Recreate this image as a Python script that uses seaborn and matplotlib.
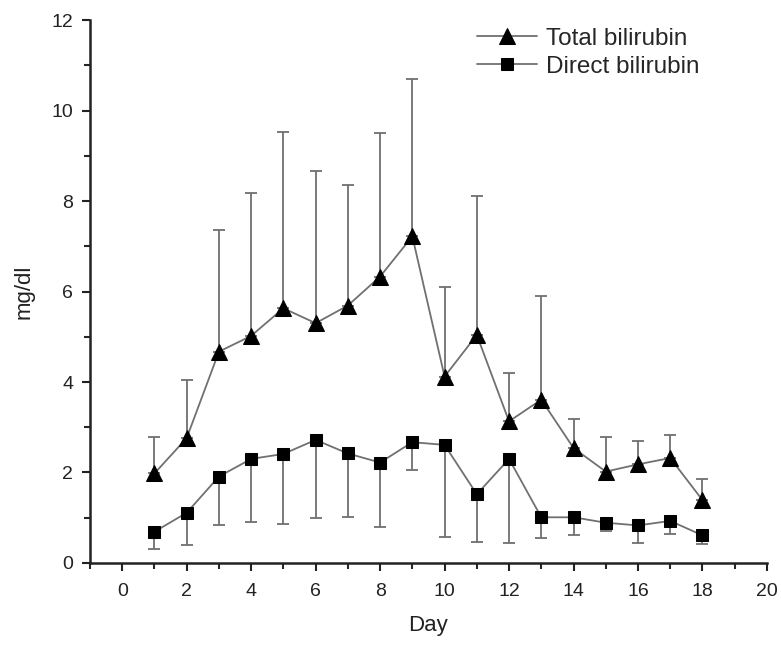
import numpy as np
import pandas as pd
import seaborn as sns
import matplotlib.pyplot as plt
from matplotlib.ticker import MultipleLocator

days = list(range(1, 19))
total = [1.98, 2.76, 4.67, 5.02, 5.63, 5.30, 5.69, 6.33, 7.22,
         4.12, 5.04, 3.13, 3.61, 2.54, 2.02, 2.18, 2.32, 1.39]
total_upper = [2.79, 4.05, 7.37, 8.18, 9.53, 8.67, 8.36, 9.51, 10.70,
               6.10, 8.10, 4.20, 5.91, 3.19, 2.79, 2.69, 2.82, 1.86]
direct = [0.69, 1.11, 1.91, 2.30, 2.41, 2.72, 2.42, 2.22, 2.67,
          2.61, 1.52, 2.30, 1.01, 1.01, 0.89, 0.83, 0.93, 0.61]
direct_lower = [0.32, 0.39, 0.83, 0.91, 0.87, 1.00, 1.01, 0.80, 2.06,
                0.58, 0.47, 0.45, 0.55, 0.61, 0.71, 0.44, 0.65, 0.41]

sns.set_style("ticks")
plt.rcParams['font.family'] = ['Liberation Sans', 'DejaVu Sans']

df = pd.DataFrame({"day": days, "total": total, "direct": direct})

fig = plt.figure(figsize=(7.81, 6.46), dpi=100)
ax = fig.add_axes([0.1152, 0.1285, 0.982 - 0.1152, 0.969 - 0.1285])

line_grey = "#707070"

# one-sided error bars (up for total, down for direct)
up = np.array(total_upper) - np.array(total)
down = np.array(direct) - np.array(direct_lower)
ax.errorbar(days, total, yerr=[np.zeros(len(days)), up], fmt="none",
            ecolor=line_grey, elinewidth=1.3, capsize=4, capthick=1.3, zorder=1)
ax.errorbar(days, direct, yerr=[down, np.zeros(len(days))], fmt="none",
            ecolor=line_grey, elinewidth=1.3, capsize=4, capthick=1.3, zorder=1)

sns.lineplot(data=df, x="day", y="total", ax=ax, color=line_grey, lw=1.3,
             marker="^", markersize=12, markerfacecolor="black",
             markeredgecolor="black", label="Total bilirubin", zorder=3)
sns.lineplot(data=df, x="day", y="direct", ax=ax, color=line_grey, lw=1.3,
             marker="s", markersize=9, markerfacecolor="black",
             markeredgecolor="black", label="Direct bilirubin", zorder=3)

ax.set_xlim(-1, 20)
ax.set_ylim(0, 12)
ax.xaxis.set_major_locator(MultipleLocator(2))
ax.xaxis.set_minor_locator(MultipleLocator(1))
ax.yaxis.set_major_locator(MultipleLocator(2))
ax.yaxis.set_minor_locator(MultipleLocator(1))
ax.tick_params(which="major", length=6, width=1.5, labelsize=14, colors="#222222")
ax.tick_params(which="minor", length=4, width=1.5)
ax.tick_params(axis="x", which="major", pad=8.5)
ax.tick_params(axis="y", which="major", pad=6)

for side in ["top", "right"]:
    ax.spines[side].set_visible(False)
for side in ["left", "bottom"]:
    ax.spines[side].set_linewidth(1.8)
    ax.spines[side].set_color("#222222")

ax.set_xlabel("Day", fontsize=16, labelpad=11, color="#222222")
ax.set_ylabel("mg/dl", fontsize=16, labelpad=12, color="#222222")

ax.legend(loc="upper left", bbox_to_anchor=(0.5717, 0.986), frameon=False,
          fontsize=17.5, handlelength=2.45, handletextpad=0.37,
          labelspacing=0.25, borderpad=0, borderaxespad=0)

fig.savefig("out.png", dpi=100)
